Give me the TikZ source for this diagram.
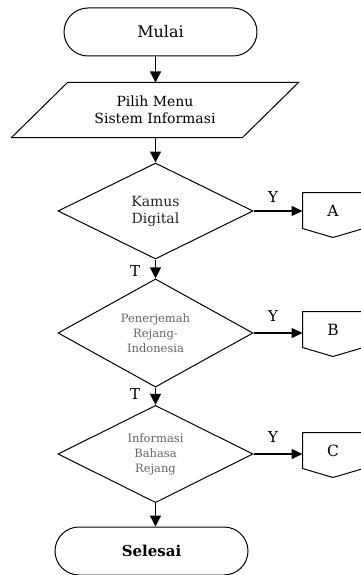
\documentclass[tikz,border=0pt]{standalone}
\usepackage{fontspec}
\setmainfont{DejaVu Serif}
\usetikzlibrary{shapes.geometric,shapes.misc,arrows.meta}
\begin{document}
\begin{tikzpicture}[x=1pt,y=-1pt,
  line width=1pt,
  arr/.style={-{Triangle[length=11pt,width=11pt]}, line width=1.3pt},
  harr/.style={-{Triangle[length=11pt,width=10pt]}, line width=1.3pt},
  term/.style={rounded rectangle, draw, minimum width=193pt, minimum height=48pt, inner sep=0pt, line width=1pt, font=\fontsize{16}{18}\selectfont},
  dec/.style={diamond, draw, minimum width=195pt, minimum height=96pt, inner sep=0pt, align=center, line width=1pt},
  conn/.style={rectangle, minimum width=60pt, minimum height=35pt, inner sep=0pt, font=\fontsize{15.5}{18}\selectfont},
  lbl/.style={inner sep=0pt, font=\fontsize{15}{18}\selectfont},
  bigtxt/.style={font=\fontsize{14}{17}\selectfont},
  smalltxt/.style={font=\fontsize{11.5}{15}\selectfont, text=black!60}
]
\useasboundingbox (0,0) rectangle (360,575);

% terminators
\node[term] (mulai) at (160.5,32) {Mulai};
\node[term, font=\fontsize{15}{18}\selectfont\bfseries] (selesai) at (151.5,551) {Selesai};

% input (parallelogram)
\node[rectangle, minimum width=230pt, minimum height=54pt, inner sep=0pt, align=center, bigtxt] (inp) at (155,110) {Pilih Menu\\Sistem Informasi};
\draw ([xshift=28pt]inp.north west) -- ([xshift=28pt]inp.north east) -- ([xshift=-28pt]inp.south east) -- ([xshift=-28pt]inp.south west) -- cycle;

% decisions
\node[dec, bigtxt, text=black!85] (d1) at (155.5,211) {Kamus\\Digital};
\node[dec, smalltxt] (d2) at (155.5,333) {Penerjemah\\Rejang-\\Indonesia};
\node[dec, smalltxt] (d3) at (155.5,454) {Informasi\\Bahasa\\Rejang};

% off-page connectors
\node[conn] (cA) at (333,210.5) {A};
\node[conn] (cB) at (333,329.5) {B};
\node[conn] (cC) at (333,450.5) {C};
\foreach \c in {cA,cB,cC}{
  \draw (\c.north west) -- (\c.north east) -- (\c.south east) -- ([yshift=-9pt]\c.south) -- (\c.south west) -- cycle;
}

% main flow
\draw[arr] (mulai.south -| d1) -- (inp.north -| d1);
\draw[arr] (inp.south -| d1) -- (d1.north);
\draw[arr] (d1.south) -- (d2.north);
\draw[arr] (d2.south) -- (d3.north);
\draw[arr] (d3.south) -- (selesai.north -| d3);

% yes branches
\draw[harr] (d1.east) -- (d1.east -| cA.west);
\draw[harr] (d2.east) -- (d2.east -| cB.west);
\draw[harr] (d3.east) -- (d3.east -| cC.west);

% labels
\node[lbl] (y1) at (273,197) {Y};
\node[lbl] (y2) at (273,316) {Y};
\node[lbl] (y3) at (273,437) {Y};
\node[lbl] (t1) at (135,271) {T};
\node[lbl] (t2) at (135,394) {T};
\end{tikzpicture}
\end{document}
